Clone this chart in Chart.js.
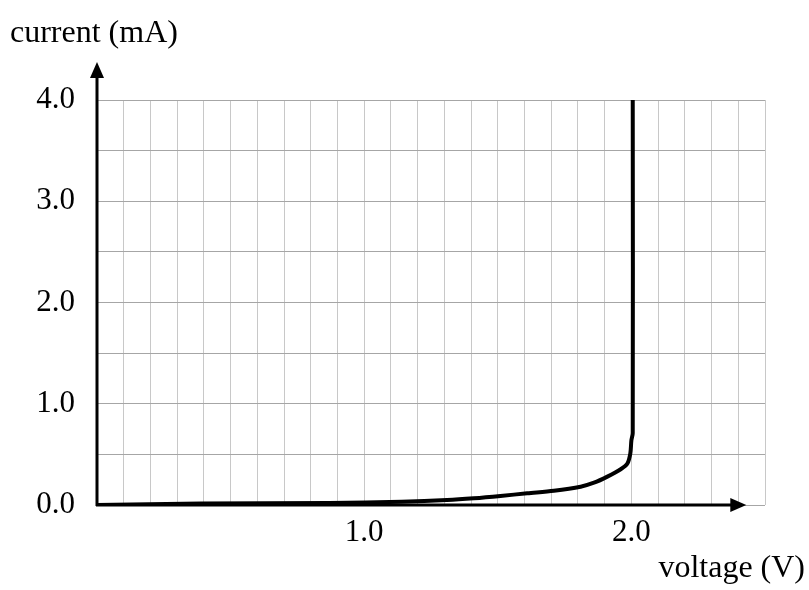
<!DOCTYPE html>
<html>
<head>
<meta charset="utf-8">
<script src="https://cdn.jsdelivr.net/npm/chart.js@4/dist/chart.umd.min.js"></script>
<style>
  html, body { margin: 0; padding: 0; background: #fff; }
  #ivChart { display: block; }
</style>
</head>
<body>
<canvas id="ivChart" width="809" height="590"></canvas>
<script>
// diode I-V curve
const voltage = [0, 0.39, 0.87, 1.14, 1.31, 1.41, 1.51, 1.61, 1.71, 1.81, 1.86, 1.91, 1.96, 1.985, 1.996, 2.0, 2.005, 2.005];
const current = [0, 0.015, 0.02, 0.033, 0.049, 0.066, 0.089, 0.116, 0.141, 0.181, 0.22, 0.28, 0.353, 0.41, 0.51, 0.64, 0.71, 4.0];

const xLabels = [1.0, 2.0];
const yLabels = [0, 1, 2, 3, 4];
const xTitle = 'voltage (V)';
const yTitle = 'current (mA)';

const FONT = "'Liberation Serif', 'Times New Roman', serif";

// axis lines with arrowheads, plus the corner titles
const axesPlugin = {
    id: 'axes',
    afterDraw(chart) {
        const ctx = chart.ctx;
        const xs = chart.scales.x;
        const ys = chart.scales.y;
        const x0 = xs.getPixelForValue(0);
        const y0 = ys.getPixelForValue(0);
        const yTip = chart.chartArea.top - 38;
        const xTip = xs.getPixelForValue(2.43);

        ctx.save();
        ctx.strokeStyle = '#000';
        ctx.fillStyle = '#000';
        ctx.lineWidth = 3;

        ctx.beginPath();
        ctx.moveTo(x0, y0 + 1);
        ctx.lineTo(x0, yTip + 10);
        ctx.moveTo(x0 - 1, y0);
        ctx.lineTo(xTip - 10, y0);
        ctx.stroke();

        // arrowheads
        ctx.beginPath();
        ctx.moveTo(x0, yTip);
        ctx.lineTo(x0 - 7, yTip + 16);
        ctx.lineTo(x0 + 7, yTip + 16);
        ctx.closePath();
        ctx.fill();

        ctx.beginPath();
        ctx.moveTo(xTip, y0);
        ctx.lineTo(xTip - 16, y0 - 7);
        ctx.lineTo(xTip - 16, y0 + 7);
        ctx.closePath();
        ctx.fill();

        ctx.font = '32px ' + FONT;
        ctx.textBaseline = 'alphabetic';
        ctx.textAlign = 'left';
        ctx.fillText(yTitle, 10, 42);
        ctx.textAlign = 'right';
        ctx.fillText(xTitle, 805, 577);
        ctx.restore();
    }
};

Chart.defaults.font.family = FONT;
Chart.defaults.font.size = 31;
Chart.defaults.color = '#000';

new Chart(document.getElementById('ivChart'), {
    type: 'line',
    data: {
        datasets: [{
            data: voltage.map((v, i) => ({ x: v, y: current[i] })),
            borderColor: '#000',
            borderWidth: 4,
            pointRadius: 0,
            tension: 0.3,
            fill: false
        }]
    },
    options: {
        responsive: false,
        animation: false,
        layout: { padding: { left: 0, right: 44, top: 100, bottom: 0 } },
        plugins: {
            legend: { display: false },
            tooltip: { enabled: false }
        },
        scales: {
            x: {
                type: 'linear',
                min: 0,
                max: 2.5,
                afterFit(scale) { scale.height = 85; },
                border: { display: false },
                grid: { color: '#c8c8c8', lineWidth: 1, drawTicks: false },
                ticks: {
                    stepSize: 0.1,
                    autoSkip: false,
                    maxRotation: 0,
                    padding: 9,
                    callback(v) {
                        const hit = xLabels.find(l => Math.abs(l - v) < 1e-6);
                        return hit !== undefined ? hit.toFixed(1) : '';
                    }
                }
            },
            y: {
                type: 'linear',
                min: 0,
                max: 4,
                afterFit(scale) { scale.width = 97; },
                border: { display: false },
                grid: { color: '#a6a6a6', lineWidth: 1, drawTicks: false },
                ticks: {
                    stepSize: 0.5,
                    autoSkip: false,
                    padding: 22,
                    callback(v) {
                        const hit = yLabels.find(l => Math.abs(l - v) < 1e-6);
                        return hit !== undefined ? hit.toFixed(1) : '';
                    }
                }
            }
        }
    },
    plugins: [axesPlugin]
});
</script>
</body>
</html>
